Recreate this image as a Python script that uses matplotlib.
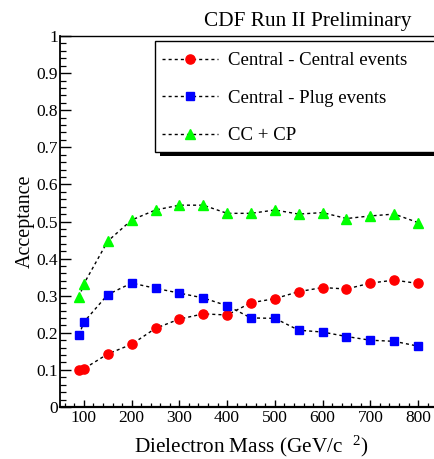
import matplotlib
matplotlib.use("Agg")
import matplotlib.pyplot as plt
from matplotlib.patches import Rectangle
from matplotlib.ticker import MultipleLocator, FixedLocator

plt.rcParams["font.family"] = ["Liberation Serif", "DejaVu Serif"]
plt.rcParams["mathtext.fontset"] = "custom"
plt.rcParams["mathtext.rm"] = "Liberation Serif"
plt.rcParams["mathtext.it"] = "Liberation Serif:italic"

# Dielectron mass points (GeV/c^2)
mass = [90, 100, 150, 200, 250, 300, 350, 400, 450, 500, 550, 600, 650, 700, 750, 800]

# Acceptance for each event topology
acc_cc = [0.099, 0.103, 0.143, 0.169, 0.212, 0.237, 0.251, 0.248, 0.281, 0.292,
          0.311, 0.322, 0.318, 0.334, 0.342, 0.333]
acc_cp = [0.194, 0.229, 0.303, 0.334, 0.320, 0.307, 0.294, 0.273, 0.240, 0.239,
          0.207, 0.202, 0.190, 0.180, 0.177, 0.164]
acc_sum = [0.296, 0.332, 0.447, 0.504, 0.531, 0.544, 0.544, 0.522, 0.522, 0.531,
           0.520, 0.524, 0.508, 0.515, 0.520, 0.497]

series_labels = ["Central - Central events", "Central - Plug events", "CC + CP"]
x_ticks = [100, 200, 300, 400, 500, 600, 700, 800]
y_ticks = [0, 0.1, 0.2, 0.3, 0.4, 0.5, 0.6, 0.7, 0.8, 0.9, 1.0]
y_tick_labels = ["0", "0.1", "0.2", "0.3", "0.4", "0.5", "0.6", "0.7", "0.8", "0.9", "1"]

W, H = 434, 459
fig = plt.figure(figsize=(W / 100, H / 100), dpi=100)
fig.patch.set_facecolor("white")

# axes frame in pixel units (the frame runs past the right edge of the canvas)
left_px, right_px, top_px, bottom_px = 60, 442, 36, 407
ax = fig.add_axes([left_px / W, 1 - bottom_px / H,
                   (right_px - left_px) / W, (bottom_px - top_px) / H])

dot = (0, (2.2, 2.2))
common = dict(color="black", linestyle=dot, linewidth=1.0)
l1, = ax.plot(mass, acc_cc, marker="o", markersize=6.6, markerfacecolor="#ff0000",
              markeredgecolor="#ff0000", **common)
l2, = ax.plot(mass, acc_cp, marker="s", markersize=6.0, markerfacecolor="#0000ff",
              markeredgecolor="#0000ff", **common)
l3, = ax.plot(mass, acc_sum, marker="^", markersize=6.8, markerfacecolor="#00ff00",
              markeredgecolor="#00ff00", **common)

ax.set_xlim(50, 850)
ax.set_ylim(0, 1)

ax.xaxis.set_major_locator(FixedLocator(x_ticks))
ax.set_xticklabels([str(v) for v in x_ticks])
ax.xaxis.set_minor_locator(MultipleLocator(20))
ax.yaxis.set_major_locator(FixedLocator(y_ticks))
ax.set_yticklabels(y_tick_labels)
ax.yaxis.set_minor_locator(MultipleLocator(0.02))

ax.tick_params(axis="x", which="major", direction="in", length=5.2, width=1.0,
               labelsize=12.5, pad=2.5, top=False)
ax.tick_params(axis="x", which="minor", direction="in", length=2.6, width=0.9, top=False)
ax.tick_params(axis="y", which="major", direction="in", length=8.0, width=1.0,
               labelsize=12.5, pad=1.5, right=False)
ax.tick_params(axis="y", which="minor", direction="in", length=4.0, width=0.9, right=False)

ax.spines["left"].set_linewidth(1.3)
ax.spines["bottom"].set_linewidth(1.6)
ax.spines["top"].set_linewidth(1.0)
ax.spines["right"].set_linewidth(1.0)

ax.set_xlabel("Dielectron Mass (GeV/c  $^{2}$)", fontsize=15.3, labelpad=5)
ax.set_ylabel("Acceptance", fontsize=14.5, labelpad=1)

fig.text(411 / W, 1 - 26 / H, "CDF Run II Preliminary", fontsize=15.3,
         ha="right", va="baseline")

# legend box with a solid drop shadow
lx0, ly0, lx1, ly1 = 155, 41, 445, 152
to_ax = lambda px, py: ((px - left_px) / (right_px - left_px),
                        (bottom_px - py) / (bottom_px - top_px))
sx, sy = 5, 4
shadow = Rectangle(to_ax(lx0 + sx, ly1 + sy),
                   (lx1 - lx0) / (right_px - left_px),
                   (ly1 - ly0) / (bottom_px - top_px),
                   transform=ax.transAxes, facecolor="black", edgecolor="none",
                   clip_on=False, zorder=4)
box = Rectangle(to_ax(lx0, ly1),
                (lx1 - lx0) / (right_px - left_px),
                (ly1 - ly0) / (bottom_px - top_px),
                transform=ax.transAxes, facecolor="white", edgecolor="black",
                linewidth=1.0, clip_on=False, zorder=5)
ax.add_patch(shadow)
ax.add_patch(box)

bx, by = to_ax(lx0, ly0 + 4)
leg = ax.legend([l1, l2, l3], series_labels, loc="upper left",
                bbox_to_anchor=(bx, by), borderaxespad=0, frameon=False,
                fontsize=13.5, numpoints=1, handlelength=3.0, handletextpad=0.5,
                labelspacing=1.09, borderpad=0.38)
leg.set_zorder(6)

fig.savefig("out.png", dpi=100, facecolor="white")
